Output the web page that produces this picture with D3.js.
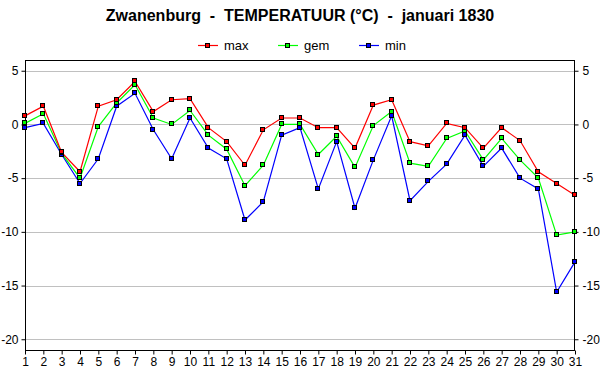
<!DOCTYPE html>
<html><head><meta charset="utf-8">
<script src="https://cdn.jsdelivr.net/npm/d3@7"></script>
<style>body{margin:0;background:#fff;} svg{display:block;} text{font-family:"Liberation Sans",Arial,sans-serif;}</style>
</head><body><div id="chart"></div>
<script>
const days = d3.range(1, 32);
const maxT = [0.8,1.7,-2.6,-4.4,1.7,2.3,4.0,1.2,2.3,2.4,-0.3,-1.6,-3.8,-0.5,0.6,0.6,-0.3,-0.3,-2.2,1.8,2.3,-1.6,-2.0,0.1,-0.3,-2.2,-0.3,-1.5,-4.4,-5.5,-6.6];
const gemT = [0.1,1.0,-2.7,-5.0,-0.2,2.0,3.7,0.6,0.0,1.3,-1.0,-2.3,-5.7,-3.8,0.0,0.0,-2.8,-1.1,-4.0,-0.1,1.2,-3.6,-3.9,-1.3,-0.6,-3.3,-1.3,-3.3,-5.0,-10.3,-10.0];
const minT = [-0.3,0.1,-2.8,-5.5,-3.2,1.7,2.9,-0.5,-3.2,0.6,-2.2,-3.2,-8.9,-7.2,-1.0,-0.3,-6.0,-1.6,-7.8,-3.3,0.8,-7.1,-5.3,-3.7,-1.0,-3.9,-2.2,-5.0,-6.0,-15.6,-12.8];
const yTicks = [5,0,-5,-10,-15,-20];
const seriesNames = ["max","gem","min"];
const seriesColors = ["#ff0000","#00ff00","#0000ff"];
const titleText = "Zwanenburg  -  TEMPERATUUR (°C)  -  januari 1830";

const W = 600, H = 390;
const L = 25, R = 575, T = 60, B = 350;
const svg = d3.select("#chart").append("svg").attr("width", W).attr("height", H);
const x = d3.scaleLinear().domain([1, 31]).range([L, R]);
const y = d3.scaleLinear().domain([-21, 6]).range([B, T]);

// grid
svg.append("g").selectAll("line").data(yTicks).join("line")
  .attr("x1", L).attr("x2", R)
  .attr("y1", d => Math.round(y(d)) + 0.5).attr("y2", d => Math.round(y(d)) + 0.5)
  .attr("stroke", "#c0c0c0").attr("stroke-width", 1);

// frame
svg.append("rect").attr("x", L + 0.5).attr("y", T + 0.5).attr("width", R - L - 1).attr("height", B - T)
  .attr("fill", "none").attr("stroke", "#000").attr("stroke-width", 1);

// axes
const fmt = d => d < 0 ? "-" + Math.abs(d) : String(d);
const yl = svg.append("g").attr("transform", `translate(${L + 0.5},0)`)
  .call(d3.axisLeft(y).tickValues(yTicks).tickSize(4).tickPadding(3).tickFormat(fmt));
const yr = svg.append("g").attr("transform", `translate(${R - 0.5},0)`)
  .call(d3.axisRight(y).tickValues(yTicks).tickSize(4).tickPadding(4).tickFormat(fmt));
const xa = svg.append("g").attr("transform", `translate(0,${B + 0.5})`)
  .call(d3.axisBottom(x).tickValues(days).tickSize(4).tickPadding(3).tickFormat(d3.format("d")));
[yl, yr, xa].forEach(g => {
  g.select(".domain").remove();
  g.selectAll("line").attr("stroke", "#000");
  g.selectAll("text").attr("fill", "#000").style("font-size", "12px")
    .style("font-family", "'Liberation Sans',Arial,sans-serif");
});

// series
const series = [minT, gemT, maxT];
const cols = [seriesColors[2], seriesColors[1], seriesColors[0]];
const line = d3.line().x((d, i) => x(days[i])).y(d => y(d));
series.forEach((s, k) => {
  svg.append("path").datum(s).attr("d", line).attr("fill", "none")
    .attr("stroke", cols[k]).attr("stroke-width", 1.2);
});
series.forEach((s, k) => {
  svg.append("g").selectAll("rect").data(s).join("rect")
    .attr("x", (d, i) => Math.round(x(days[i])) - 2.5)
    .attr("y", d => Math.round(y(d)) - 2.5)
    .attr("width", 4).attr("height", 4)
    .attr("fill", cols[k]).attr("stroke", "#000").attr("stroke-width", 1);
});

// title
svg.append("text").attr("x", 300).attr("y", 21).attr("text-anchor", "middle")
  .attr("xml:space", "preserve").style("white-space", "pre")
  .style("font-size", "16px").style("font-weight", "bold").text(titleText);

// legend
const lx = [198, 278, 359];
seriesNames.forEach((n, i) => {
  const g = svg.append("g");
  g.append("line").attr("x1", lx[i]).attr("x2", lx[i] + 20).attr("y1", 45.5).attr("y2", 45.5)
    .attr("stroke", seriesColors[i]).attr("stroke-width", 1.2);
  g.append("rect").attr("x", lx[i] + 7.5).attr("y", 43.5).attr("width", 4).attr("height", 4)
    .attr("fill", seriesColors[i]).attr("stroke", "#000");
  g.append("text").attr("x", lx[i] + 26).attr("y", 50).style("font-size", "13px").text(n);
});
</script></body></html>
